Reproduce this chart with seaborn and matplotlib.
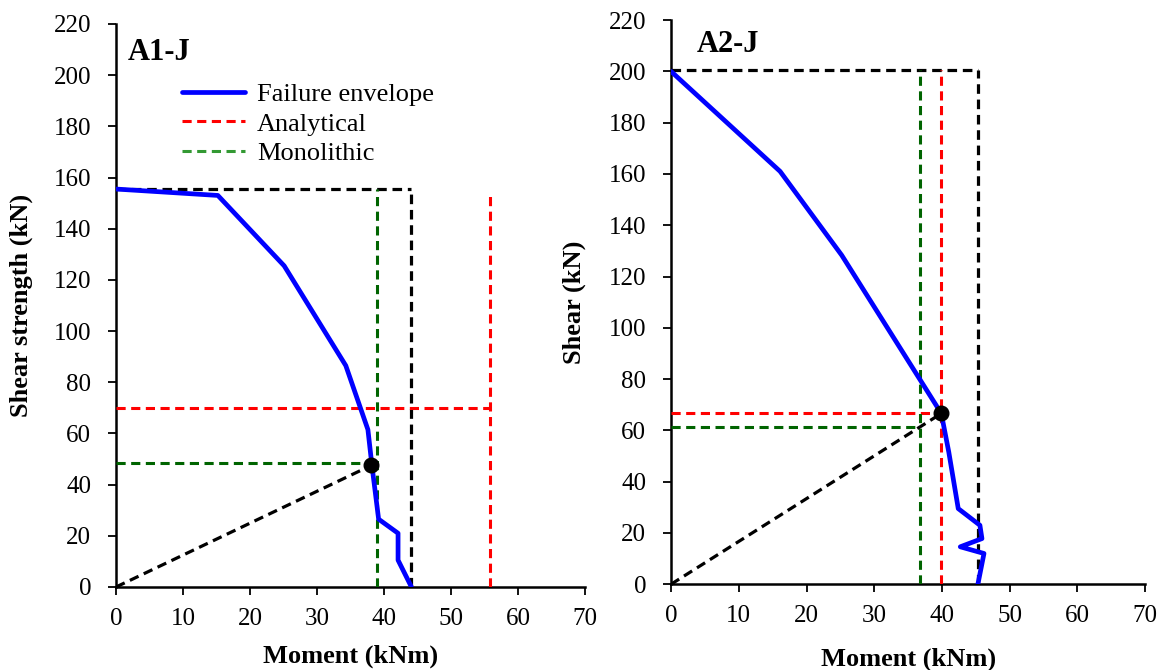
import matplotlib
matplotlib.use("Agg")
import matplotlib.pyplot as plt
from matplotlib.lines import Line2D
import seaborn as sns
import pandas as pd

# ---- data ----
a1_moment = [0.0, 15.2, 25.1, 34.3, 37.6, 38.2, 39.2, 42.1, 42.1, 44.1]
a1_shear = [155.5, 153.0, 125.5, 86.5, 61.5, 47.5, 26.5, 21.0, 10.5, 0.0]
a1_point = (38.1, 47.5)
a1_black_m, a1_black_v = 44.1, 155.5
a1_anal_m, a1_anal_v, a1_anal_top = 55.8, 70.0, 154.0
a1_mono_m, a1_mono_v, a1_mono_top = 39.0, 48.5, 155.5

a2_moment = [0.0, 16.1, 25.2, 39.9, 41.0, 42.4, 45.6, 45.9, 42.7, 46.2, 45.3]
a2_shear = [200.0, 161.0, 128.3, 66.6, 51.6, 29.5, 23.0, 17.8, 14.6, 12.0, 0.0]
a2_point = (39.9, 66.6)
a2_black_m, a2_black_v = 45.3, 200.5
a2_anal_m, a2_anal_v, a2_anal_top = 39.8, 66.6, 200.5
a2_mono_m, a2_mono_v, a2_mono_top = 36.8, 61.3, 200.5

legend_labels = ['Failure envelope', 'Analytical', 'Monolithic']
xticks = list(range(0, 71, 10))
yticks = list(range(0, 221, 20))

sns.set_style("ticks")
plt.rcParams['font.family'] = ['Liberation Serif', 'DejaVu Serif']
plt.rcParams['text.color'] = 'black'
plt.rcParams['axes.labelcolor'] = 'black'
plt.rcParams['xtick.color'] = 'black'
plt.rcParams['ytick.color'] = 'black'
plt.rcParams['xtick.direction'] = 'out'
plt.rcParams['ytick.direction'] = 'out'

fig = plt.figure(figsize=(11.65, 6.7), dpi=100)
ax1 = fig.add_axes([0.0996, 0.1239, 0.4025, 0.8403])
ax2 = fig.add_axes([0.576, 0.128, 0.407, 0.842])

DASH = (0, (3.0, 1.8))
BLUE = '#0000FF'
RED = '#FF0000'
GREEN = '#006400'
LEG_GREEN = '#339933'


def draw(ax, mom, sh, pt, bm, bv, am, av, atop, mm, mv, mtop, ylabel, ylabx, xlaby):
    df = pd.DataFrame({'Moment': mom, 'Shear': sh})
    sns.lineplot(data=df, x='Moment', y='Shear', sort=False, estimator=None, ax=ax,
                 color=BLUE, lw=3.4, zorder=5, legend=False)
    # black box
    ax.plot([0, bm], [bv, bv], color='black', ls=DASH, lw=2.3, zorder=3)
    ax.plot([bm, bm], [0, bv], color='black', ls=DASH, lw=2.3, zorder=3)
    # analytical
    ax.plot([am, am], [0, atop], color=RED, ls=DASH, lw=2.2, zorder=4)
    ax.plot([0, am], [av, av], color=RED, ls=DASH, lw=2.2, zorder=4)
    # monolithic
    ax.plot([mm, mm], [0, mtop], color=GREEN, ls=DASH, lw=2.2, zorder=4)
    ax.plot([0, mm], [mv, mv], color=GREEN, ls=DASH, lw=2.2, zorder=4)
    # diagonal
    ax.plot([0, pt[0]], [0, pt[1]], color='black', ls=DASH, lw=2.3, zorder=4)
    ax.plot([pt[0]], [pt[1]], 'o', color='black', ms=10.5, zorder=7)

    ax.set_xlim(0, 70)
    ax.set_ylim(0, 220)
    ax.set_xticks(xticks)
    ax.set_yticks(yticks)
    ax.tick_params(labelsize=18, length=6, width=1.3, colors='black')
    ax.tick_params(axis='y', pad=12)
    ax.tick_params(axis='x', pad=9)
    for s in ['left', 'bottom']:
        ax.spines[s].set_linewidth(1.8)
        ax.spines[s].set_color('black')
    sns.despine(ax=ax)
    ax.set_xlabel('Moment (kNm)', fontsize=19, fontweight='bold')
    ax.xaxis.set_label_coords(0.5, xlaby)
    ax.set_ylabel(ylabel, fontsize=19, fontweight='bold')
    ax.yaxis.set_label_coords(ylabx, 0.5)
    return ax


draw(ax1, a1_moment, a1_shear, a1_point, a1_black_m, a1_black_v,
     a1_anal_m, a1_anal_v, a1_anal_top, a1_mono_m, a1_mono_v, a1_mono_top,
     'Shear strength (kN)', (33 - 116) / 469, (587 - 645) / 563)
draw(ax2, a2_moment, a2_shear, a2_point, a2_black_m, a2_black_v,
     a2_anal_m, a2_anal_v, a2_anal_top, a2_mono_m, a2_mono_v, a2_mono_top,
     'Shear (kN)', (586 - 671) / 474, (584 - 647) / 564)

ax1.text(12 / 469, (587 - 53) / 563, 'A1-J', transform=ax1.transAxes, fontsize=22,
         fontweight='bold', va='center', ha='left')
ax2.text(26 / 474, (584 - 44) / 564, 'A2-J', transform=ax2.transAxes, fontsize=22,
         fontweight='bold', va='center', ha='left')

handles = [Line2D([], [], color=BLUE, lw=3.4),
           Line2D([], [], color=RED, lw=2.2, ls=DASH),
           Line2D([], [], color=LEG_GREEN, lw=2.2, ls=DASH)]
ax1.legend(handles, legend_labels, loc='upper left',
           bbox_to_anchor=((182 - 116) / 469, (587 - 83) / 563), frameon=False,
           fontsize=19, handlelength=2.4, handletextpad=0.45,
           labelspacing=0.22, borderaxespad=0, borderpad=0)

fig.savefig('out.png', dpi=100)
